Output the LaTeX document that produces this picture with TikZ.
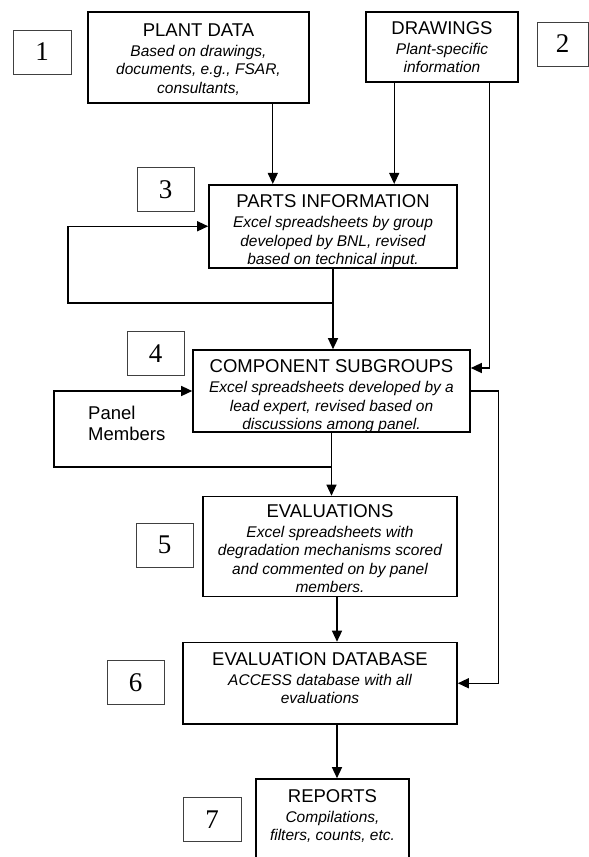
\documentclass[tikz,border=0pt]{standalone}
\usepackage{fontspec}
\setmainfont{Liberation Serif}
\setsansfont{Liberation Sans}
\usepackage{array}
\usetikzlibrary{arrows.meta}
\newcommand{\stagetitle}{\fontsize{18.5}{18.5}\selectfont}
\newcommand{\stagetext}[2]{\begin{tabular}[b]{@{}>{\itshape}c@{}}\upshape\stagetitle #1\\[1.5pt] #2\end{tabular}}
\begin{document}
\begin{tikzpicture}[x=1pt,y=-1pt,>={Triangle[length=11pt,width=10pt]},
    stage/.style={draw,line width=1.6pt,inner sep=0pt,text depth=0pt,font=\sffamily\fontsize{15.5}{18.5}\selectfont},
    numbox/.style={draw=black!75,line width=0.9pt,minimum height=44pt,inner sep=0pt,font=\fontsize{27}{27}\selectfont},
    link/.style={->,line width=1.3pt}]
    \useasboundingbox (0,0) rectangle (589,857);
    \clip (0,0) rectangle (589,857);
% the seven stages
    \node[stage,minimum width=221pt,minimum height=91pt,text height=71pt] (plant) at (198.5,57.5)
        {\stagetext{PLANT DATA}{Based on drawings,\\documents, e.g., FSAR,\\consultants,}};
    \node[stage,minimum width=152pt,minimum height=70pt,text height=51pt] (drawings) at (442,47)
        {\stagetext{DRAWINGS}{Plant-specific\\information}};
    \node[stage,minimum width=248pt,minimum height=83pt,text height=77pt] (parts) at (333,226.25)
        {\stagetext{PARTS INFORMATION}{Excel spreadsheets by group\\developed by BNL, revised\\based on technical input.}};
    \node[stage,minimum width=277pt,minimum height=82pt,text height=77pt] (component) at (331.5,391)
        {\stagetext{COMPONENT SUBGROUPS}{Excel spreadsheets developed by a\\lead expert, revised based on\\discussions among panel.}};
    \node[stage,minimum width=254pt,minimum height=100pt,text height=92pt] (evaluations) at (330,546.5)
        {\stagetext{EVALUATIONS}{Excel spreadsheets with\\degradation mechanisms scored\\and commented on by panel\\members.}};
    \node[stage,minimum width=274pt,minimum height=81.5pt,text height=40.5pt] (database) at (320,683.25)
        {\stagetext{EVALUATION DATABASE}{ACCESS database with all\\evaluations}};
    \node[stage,minimum width=153pt,minimum height=96pt,text height=27pt] (reports) at (332.5,827)
        {\stagetext{REPORTS}{Compilations,\\filters, counts, etc.}};
    \node[anchor=west,inner sep=0pt,align=left,font=\sffamily\fontsize{18.5}{21}\selectfont] (panel) at (88,423.5) {Panel\\Members};
% step numbers
\foreach \n/\x/\y/\w in {1/42/52/58,2/562.5/44/51,3/165.5/189.5/57,4/155.5/353.5/57,5/164.5/545/57,6/135.5/682.5/57,7/212/819.5/58}
{
    \node[numbox,minimum width=\w pt] (num\n) at (\x,\y) {\n};
}
% flow
    \draw[link] ([xshift=-37pt]plant.south east) -- ([xshift=-37pt]plant.south east |- parts.north);
    \draw[link] ([xshift=29pt]drawings.south west) -- ([xshift=29pt]drawings.south west |- parts.north);
    \draw[link] ([xshift=-29pt]drawings.south east) |- ([yshift=23pt]component.east);
    \coordinate (partsloop) at (68,303);
    \draw[link] (parts.south) |- (partsloop) |- (parts.west);
    \draw[link] (parts.south) -- (parts.south |- component.north);
    \coordinate (panelloop) at (54,467);
    \draw[link] (component.south) |- (panelloop) |- (component.west);
    \draw[link] (component.south) -- (component.south |- evaluations.north);
    \draw[link] (component.east) -- ++(28,0) |- (database.east);
    \draw[link] ([xshift=7pt]evaluations.south) -- ([xshift=7pt]evaluations.south |- database.north);
    \draw[link] ([xshift=17pt]database.south) -- ([xshift=17pt]database.south |- reports.north);
\end{tikzpicture}
\end{document}
